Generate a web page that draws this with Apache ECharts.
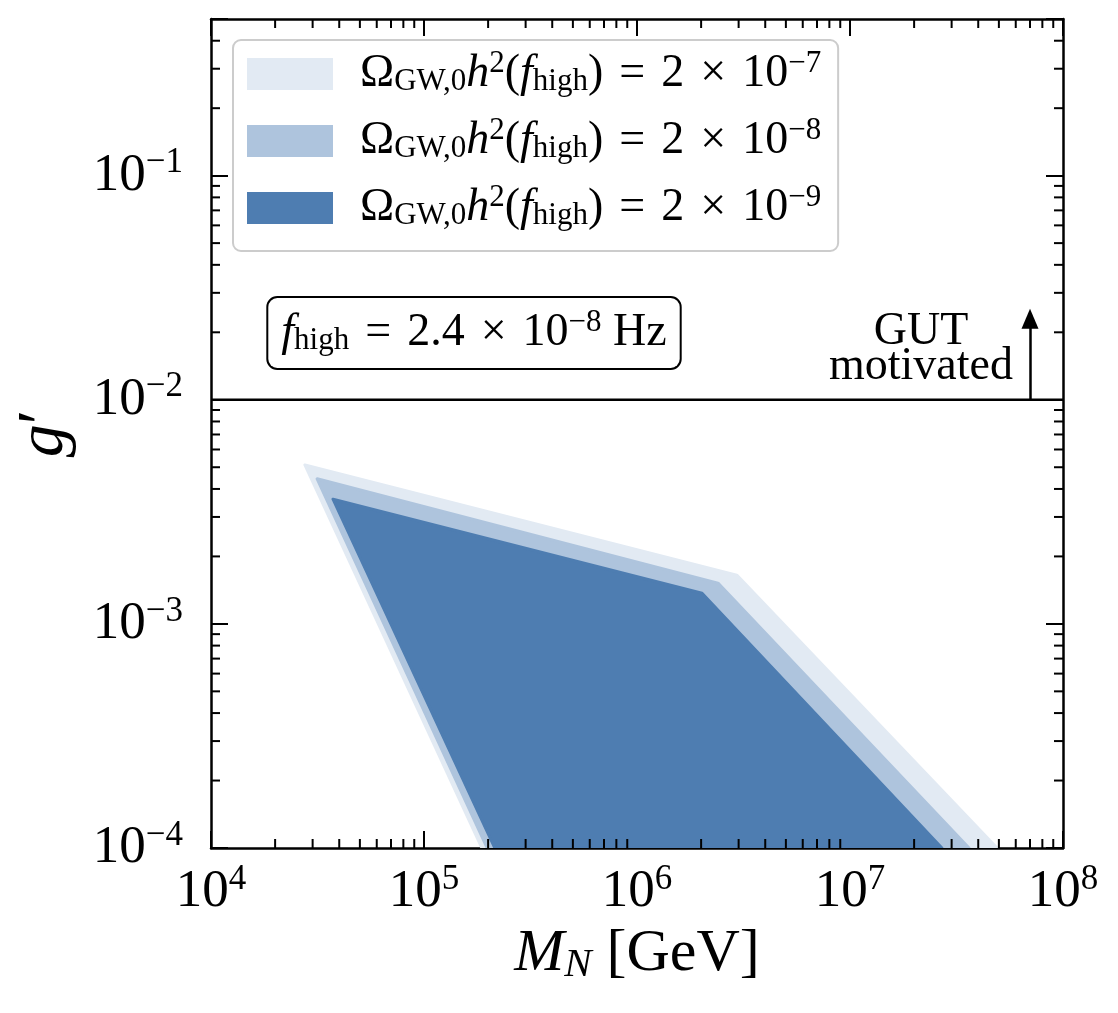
<!DOCTYPE html>
<html>
<head>
<meta charset="utf-8">
<title>g' vs M_N</title>
<script src="https://cdn.jsdelivr.net/npm/echarts@6/dist/echarts.min.js"></script>
<style>
html, body { margin: 0; padding: 0; background: #fff; }
#main { width: 1118px; height: 1013px; }
</style>
</head>
<body>
<div id="main"></div>
<script>
var FONT = '"Liberation Serif", "DejaVu Serif", serif';

// region corners: M_N [GeV] and g'
var lightM = [2.76e4, 2.94e6, 4.9e7, 1.87e5];
var lightG = [5.12e-3, 1.65e-3, 1e-4, 1e-4];
var midM = [3.15e4, 2.40e6, 3.62e7, 1.98e5];
var midG = [4.44e-3, 1.52e-3, 1e-4, 1e-4];
var darkM = [3.74e4, 2.02e6, 2.70e7, 2.15e5];
var darkG = [3.6e-3, 1.37e-3, 1e-4, 1e-4];

var regionNames = ['2e-7', '2e-8', '2e-9'];
var regionExp = ['−7', '−8', '−9'];
var regionColors = ['#e2eaf3', '#aec4dd', '#4e7db1'];

// GUT line + arrow
var gutG = 1e-2;
var arrowM = 7e7;
var arrowTopG = 2.3e-2;

// axes
var xMin = 1e4, xMax = 1e8;
var yMin = 1e-4, yMax = 0.5;
var minorMant = [2, 3, 4, 5, 6, 7, 8, 9];
var xDecades = [1e4, 1e5, 1e6, 1e7];
var yDecades = [1e-4, 1e-3, 1e-2, 1e-1];

var chart = echarts.init(document.getElementById('main'));

function minorList(decades, max) {
	var out = [];
	decades.forEach(function(d) {
		minorMant.forEach(function(m) {
			if (d * m <= max * 1.0001) out.push(d * m);
		});
	});
	return out;
}
var xMinor = minorList(xDecades, xMax);
var yMinor = minorList(yDecades, yMax);

function regionSeries(name, ms, gs, color) {
	var pts = ms.map(function(m, i) { return [m, gs[i]]; });
	return {
		name: name,
		type: 'custom',
		coordinateSystem: 'cartesian2d',
		silent: true,
		clip: true,
		itemStyle: { color: color },
		data: pts,
		renderItem: function(params, api) {
			if (params.dataIndex !== 0) return;
			return {
				type: 'polygon',
				shape: { points: pts.map(function(p) { return api.coord(p); }) },
				style: { fill: color, stroke: color, lineWidth: 3, lineJoin: 'round' }
			};
		}
	};
}

// superscript / subscript styles
var legendRich = {
	r: { fontFamily: FONT, fontSize: 46, lineHeight: 52, color: '#000' },
	it: { fontFamily: FONT, fontSize: 46, lineHeight: 52, fontStyle: 'italic', color: '#000' },
	op: { fontFamily: FONT, fontSize: 46, lineHeight: 52, color: '#000', padding: [0, 16, 0, 16] },
	sup: { fontFamily: FONT, fontSize: 31, lineHeight: 30, verticalAlign: 'top', color: '#000' },
	sub: { fontFamily: FONT, fontSize: 31, lineHeight: 30, verticalAlign: 'bottom', padding: [0, 0, 3, 0], color: '#000' }
};

function tickLabel(v) {
	var l = Math.log10(v);
	var e = Math.round(l);
	if (Math.abs(l - e) > 1e-6) return '';
	return '{b|10}{s|' + (e < 0 ? '−' : '') + Math.abs(e) + '}';
}
var tickRich = {
	b: { fontFamily: FONT, fontSize: 53, lineHeight: 60, color: '#000' },
	s: { fontFamily: FONT, fontSize: 35, lineHeight: 36, verticalAlign: 'top', color: '#000' }
};

var frameLine = { show: true, onZero: false, lineStyle: { color: '#000', width: 2.5 } };
var majorTick = { show: true, inside: true, length: 17, lineStyle: { color: '#000', width: 2 } };

var option = {
	animation: false,
	backgroundColor: '#fff',
	grid: { left: 211, right: 55, top: 19, bottom: 165, containLabel: false },
	xAxis: [{
		type: 'log', min: xMin, max: xMax, position: 'bottom',
		axisLine: frameLine, axisTick: majorTick, splitLine: { show: false },
		axisLabel: { formatter: tickLabel, rich: tickRich, margin: 14, showMaxLabel: true, showMinLabel: true },
		name: '{it|M}{sub|N}{r| [GeV]}', nameLocation: 'middle', nameGap: 74,
		nameTextStyle: { rich: {
			it: { fontFamily: FONT, fontSize: 60, lineHeight: 64, fontStyle: 'italic', color: '#000' },
			r: { fontFamily: FONT, fontSize: 60, lineHeight: 64, color: '#000' },
			sub: { fontFamily: FONT, fontSize: 41, lineHeight: 40, fontStyle: 'italic', verticalAlign: 'bottom', color: '#000' }
		} }
	}, {
		type: 'log', min: xMin, max: xMax, position: 'top',
		axisLine: frameLine, axisTick: majorTick, splitLine: { show: false }, axisLabel: { show: false }
	}],
	yAxis: [{
		type: 'log', min: yMin, max: yMax, position: 'left',
		axisLine: frameLine, axisTick: majorTick, splitLine: { show: false },
		axisLabel: { formatter: tickLabel, rich: tickRich, margin: 28 },
		name: '{it|g}{r|′}', nameLocation: 'middle', nameRotate: 90, nameGap: 134,
		nameTextStyle: { rich: {
			it: { fontFamily: FONT, fontSize: 66, lineHeight: 64, fontStyle: 'italic', color: '#000' },
			r: { fontFamily: FONT, fontSize: 66, lineHeight: 64, color: '#000' }
		} }
	}, {
		type: 'log', min: yMin, max: yMax, position: 'right',
		axisLine: frameLine, axisTick: majorTick, splitLine: { show: false }, axisLabel: { show: false }
	}],
	legend: {
		data: regionNames,
		orient: 'vertical',
		left: 233, top: 40,
		padding: [8, 17, 17, 14],
		itemWidth: 86, itemHeight: 32, itemGap: 15,
		icon: 'rect',
		backgroundColor: 'rgba(255,255,255,0.85)',
		borderColor: '#cccccc', borderWidth: 2, borderRadius: 8,
		selectedMode: false,
		formatter: function(name) {
			var e = regionExp[regionNames.indexOf(name)];
			return '{r|Ω}{sub|GW,0}{it|h}{sup|2}{r|(}{it|f}{sub|high}{r|)}{op|=}{r|2}{op|×}{r|10}{sup|' + e + '}';
		},
		textStyle: { rich: legendRich, padding: [0, 0, 0, 22] }
	},
	graphic: [{
		type: 'text', x: 474, y: 333, z: 10,
		style: {
			text: '{it|f}{sub|high}{op|=}{r|2.4}{op|×}{r|10}{sup|−8}{r| Hz}',
			rich: legendRich,
			align: 'center', verticalAlign: 'middle',
			backgroundColor: '#fff', borderColor: '#000', borderWidth: 2, borderRadius: 9,
			padding: [9, 13, 9, 13]
		}
	}, {
		type: 'text', x: 921, y: 332, z: 10,
		style: { text: 'GUT', font: '46px ' + FONT, fill: '#000', align: 'center', verticalAlign: 'middle' }
	}, {
		type: 'text', x: 921, y: 367, z: 10,
		style: { text: 'motivated', font: '46px ' + FONT, fill: '#000', align: 'center', verticalAlign: 'middle' }
	}],
	series: [
		regionSeries(regionNames[0], lightM, lightG, regionColors[0]),
		regionSeries(regionNames[1], midM, midG, regionColors[1]),
		regionSeries(regionNames[2], darkM, darkG, regionColors[2]),
		{
			name: 'GUT', type: 'line', silent: true, z: 5,
			data: [[xMin, gutG], [xMax, gutG]],
			symbol: 'none',
			lineStyle: { color: '#000', width: 2.5 },
			markLine: {
				silent: true, symbol: ['none', 'triangle'], symbolSize: [17, 20],
				lineStyle: { color: '#000', width: 2.5, type: 'solid' },
				label: { show: false },
				data: [[{ coord: [arrowM, gutG] }, { coord: [arrowM, arrowTopG] }]]
			}
		},
		{
			name: 'minorX', type: 'custom', silent: true, z: 6,
			data: xMinor.map(function(v) { return [v, yMin]; }),
			renderItem: function(params, api) {
				var b = api.coord([api.value(0), yMin]);
				var t = api.coord([api.value(0), yMax]);
				return { type: 'group', children: [
					{ type: 'line', shape: { x1: b[0], y1: b[1], x2: b[0], y2: b[1] - 9 }, style: { stroke: '#000', lineWidth: 2 } },
					{ type: 'line', shape: { x1: t[0], y1: t[1], x2: t[0], y2: t[1] + 9 }, style: { stroke: '#000', lineWidth: 2 } }
				] };
			}
		},
		{
			name: 'minorY', type: 'custom', silent: true, z: 6,
			data: yMinor.map(function(v) { return [xMin, v]; }),
			renderItem: function(params, api) {
				var l = api.coord([xMin, api.value(1)]);
				var r = api.coord([xMax, api.value(1)]);
				return { type: 'group', children: [
					{ type: 'line', shape: { x1: l[0], y1: l[1], x2: l[0] + 9, y2: l[1] }, style: { stroke: '#000', lineWidth: 2 } },
					{ type: 'line', shape: { x1: r[0], y1: r[1], x2: r[0] - 9, y2: r[1] }, style: { stroke: '#000', lineWidth: 2 } }
				] };
			}
		}
	]
};

chart.setOption(option);
window.onresize = function() { chart.resize(); };
</script>
</body>
</html>
